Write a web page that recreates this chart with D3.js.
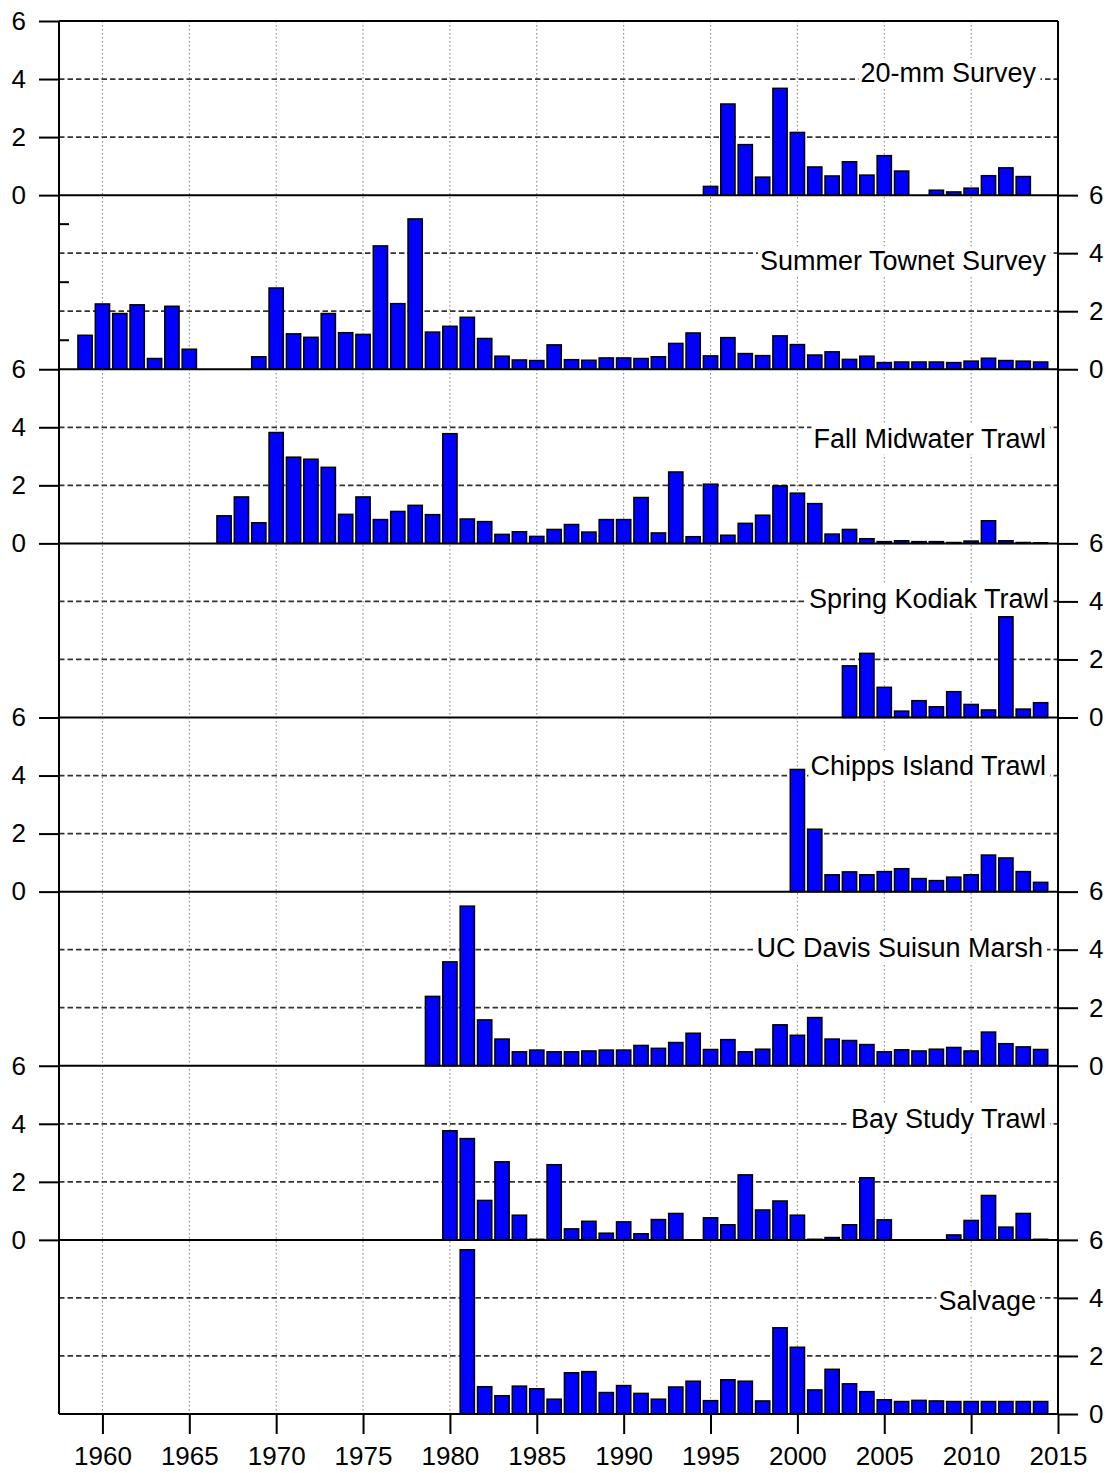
<!DOCTYPE html>
<html>
<head>
<meta charset="utf-8">
<script src="https://cdn.jsdelivr.net/npm/d3@7/dist/d3.min.js"></script>
<style>
  body { margin: 0; background: #fff; }
  text { font-family: "Liberation Sans", Arial, sans-serif; fill: #000; }
</style>
</head>
<body>
<svg id="chart" width="1111" height="1473"></svg>
<script>
// ---- data (values by year, starting at *Start) ----
var surveyNames = ["20-mm Survey", "Summer Townet Survey", "Fall Midwater Trawl", "Spring Kodiak Trawl",
                   "Chipps Island Trawl", "UC Davis Suisun Marsh", "Bay Study Trawl", "Salvage"];

var mm20Start = 1995;
var mm20 = [0.30, 3.14, 1.74, 0.62, 3.68, 2.16, 0.97, 0.66, 1.15, 0.69, 1.36, 0.83, null, 0.17, 0.11, 0.24, 0.67, 0.94, 0.64];

var townetStart = 1959;
var townet = [1.17, 2.25, 1.92, 2.22, 0.37, 2.17, 0.69, null, null, null,
              0.43, 2.80, 1.22, 1.10, 1.92, 1.26, 1.20, 4.25, 2.26, 5.18, 1.28, 1.48, 1.79, 1.06, 0.45, 0.32, 0.30, 0.84,
              0.33, 0.31, 0.39, 0.39, 0.37, 0.43, 0.89, 1.25, 0.46, 1.09, 0.54, 0.47, 1.15, 0.85, 0.49, 0.60, 0.34, 0.45,
              0.23, 0.25, 0.25, 0.25, 0.23, 0.28, 0.38, 0.30, 0.28, 0.25];

var fmwtStart = 1967;
var fmwt = [0.95, 1.60, 0.71, 3.82, 2.97, 2.90, 2.62, 1.00, 1.60, 0.82, 1.10, 1.31, 0.99, 3.78, 0.84, 0.75, 0.31, 0.40, 0.24, 0.48,
            0.65, 0.39, 0.82, 0.82, 1.58, 0.36, 2.46, 0.23, 2.04, 0.28, 0.69, 0.97, 1.98, 1.73, 1.37, 0.32, 0.48, 0.16,
            0.06, 0.09, 0.06, 0.06, 0.03, 0.08, 0.78, 0.09, 0.03, 0.02];

var sktStart = 2003;
var skt = [1.78, 2.21, 1.04, 0.22, 0.58, 0.37, 0.89, 0.45, 0.26, 3.47, 0.29, 0.51];

var chippsStart = 2000;
var chipps = [4.21, 2.15, 0.58, 0.68, 0.58, 0.69, 0.79, 0.45, 0.38, 0.50, 0.58, 1.26, 1.16, 0.69, 0.32];

var ucdStart = 1979;
var ucd = [2.39, 3.58, 5.50, 1.58, 0.92, 0.48, 0.54, 0.48,
           0.48, 0.51, 0.54, 0.54, 0.70, 0.60, 0.80, 1.12, 0.56, 0.90, 0.48, 0.57, 1.41, 1.05, 1.66, 0.92, 0.87, 0.73,
           0.48, 0.55, 0.51, 0.57, 0.63, 0.51, 1.16, 0.76, 0.65, 0.56];

var bayStart = 1980;
var bay = [3.76, 3.49, 1.36, 2.69, 0.85, 0.02, 2.59,
           0.38, 0.64, 0.23, 0.62, 0.21, 0.70, 0.91, null, 0.76, 0.52, 2.24, 1.03, 1.34, 0.85, 0.02, 0.08, 0.52, 2.14,
           0.69, null, null, null, 0.17, 0.67, 1.53, 0.44, 0.91, 0.02];

var salvageStart = 1981;
var salvage = [5.66, 0.94, 0.63, 0.96, 0.87, 0.51,
               1.42, 1.46, 0.74, 0.98, 0.71, 0.51, 0.93, 1.13, 0.46, 1.18, 1.13, 0.45, 2.97, 2.30, 0.83, 1.54, 1.04, 0.77,
               0.49, 0.43, 0.47, 0.45, 0.43, 0.43, 0.43, 0.43, 0.43, 0.43];

var seriesStarts = [mm20Start, townetStart, fmwtStart, sktStart, chippsStart, ucdStart, bayStart, salvageStart];
var seriesValues = [mm20, townet, fmwt, skt, chipps, ucd, bay, salvage];

var yTicks = [0, 2, 4, 6];
var yGrid = [2, 4];
var xTicks = [1960, 1965, 1970, 1975, 1980, 1985, 1990, 1995, 2000, 2005, 2010, 2015];
var xGrid = [1960, 1965, 1970, 1975, 1980, 1985, 1990, 1995, 2000, 2005, 2010];

// label placement (baseline in axis units, right end in px from the right axis)
var labelBase = [3.90, 3.41, 3.28, 3.79, 4.03, 3.76, 3.86, 3.59];
var labelInset = [22, 12, 12, 9, 12, 15, 12, 22];

// ---- layout ----
var plotL = 59, plotR = 1058, plotT = 21, panelH = 174.125;
var nPanels = surveyNames.length;
var plotB = plotT + nPanels * panelH;
var svg = d3.select("#chart");

var x = d3.scaleLinear().domain([1957.5, 2015]).range([plotL, plotR]);
var barW = x(1960.41) - x(1959.59);

function yScale(i) {
  return d3.scaleLinear().domain([0, 6]).range([plotT + (i + 1) * panelH, plotT + i * panelH]);
}

// vertical dotted grid
svg.append("g").selectAll("line")
   .data(xGrid).enter().append("line")
   .attr("x1", function(d) { return x(d); })
   .attr("x2", function(d) { return x(d); })
   .attr("y1", plotT).attr("y2", plotB)
   .attr("stroke", "#7a7a7a").attr("stroke-width", 1)
   .attr("stroke-dasharray", "1.5,2.5");

for (var i = 0; i < nPanels; i++) {
  var y = yScale(i);
  var g = svg.append("g").attr("class", "panel");

  // dashed horizontal grid
  g.selectAll(".hgrid")
   .data(yGrid).enter().append("line")
   .attr("class", "hgrid")
   .attr("x1", plotL).attr("x2", plotR)
   .attr("y1", function(d) { return y(d); })
   .attr("y2", function(d) { return y(d); })
   .attr("stroke", "#333").attr("stroke-width", 1.8)
   .attr("stroke-dasharray", "5.5,3");

  // bars
  var start = seriesStarts[i];
  var rows = seriesValues[i].map(function(v, j) { return { year: start + j, v: v }; })
                            .filter(function(d) { return d.v !== null; });
  g.selectAll(".bar")
   .data(rows).enter().append("rect")
   .attr("class", "bar")
   .attr("x", function(d) { return x(d.year) - barW / 2; })
   .attr("y", function(d) { return y(d.v); })
   .attr("width", barW)
   .attr("height", function(d) { return y(0) - y(d.v); })
   .attr("fill", "#0000ff")
   .attr("stroke", "#000").attr("stroke-width", 1.5);

  // label with white box
  var lab = g.append("g");
  var txt = lab.append("text")
               .attr("x", plotR - labelInset[i])
               .attr("y", y(labelBase[i]))
               .attr("text-anchor", "end")
               .style("font-size", "27px")
               .text(surveyNames[i]);
  var bb = txt.node().getBBox();
  lab.insert("rect", "text")
     .attr("x", bb.x - 2).attr("y", bb.y)
     .attr("width", bb.width + 6).attr("height", bb.height)
     .attr("fill", "#fff");

  // y axis, alternating sides
  var ax;
  if (i % 2 === 0) {
    ax = svg.append("g").attr("transform", "translate(" + plotL + ",0)")
            .call(d3.axisLeft(y).tickValues(yTicks).tickSize(20).tickPadding(13).tickFormat(d3.format("d")));
  } else {
    ax = svg.append("g").attr("transform", "translate(" + plotR + ",0)")
            .call(d3.axisRight(y).tickValues(yTicks).tickSize(20).tickPadding(11).tickFormat(d3.format("d")));
  }
  ax.select(".domain").remove();
  ax.selectAll("line").attr("stroke", "#000").attr("stroke-width", 2);
  ax.selectAll("text").style("font-size", "26px").attr("font-family", null);

  // panel boundary line
  svg.append("line")
     .attr("x1", plotL).attr("x2", plotR)
     .attr("y1", y(0)).attr("y2", y(0))
     .attr("stroke", "#000").attr("stroke-width", 2);
}

// minor inward ticks on the Summer Townet panel
var yT = yScale(1);
svg.append("g").selectAll("line")
   .data([1, 3, 5]).enter().append("line")
   .attr("x1", plotL).attr("x2", plotL + 10)
   .attr("y1", function(d) { return yT(d); })
   .attr("y2", function(d) { return yT(d); })
   .attr("stroke", "#000").attr("stroke-width", 2);

// frame
svg.append("line").attr("x1", plotL).attr("x2", plotR).attr("y1", plotT).attr("y2", plotT)
   .attr("stroke", "#000").attr("stroke-width", 2);
svg.append("line").attr("x1", plotL).attr("x2", plotL).attr("y1", plotT).attr("y2", plotB)
   .attr("stroke", "#000").attr("stroke-width", 2);
svg.append("line").attr("x1", plotR).attr("x2", plotR).attr("y1", plotT).attr("y2", plotB)
   .attr("stroke", "#000").attr("stroke-width", 2);

// x axis
var xa = svg.append("g").attr("transform", "translate(0," + plotB + ")")
            .call(d3.axisBottom(x).tickValues(xTicks).tickSize(20).tickPadding(13).tickFormat(d3.format("d")));
xa.select(".domain").remove();
xa.selectAll("line").attr("stroke", "#000").attr("stroke-width", 2);
xa.selectAll("text").style("font-size", "26px").attr("font-family", null);
</script>
</body>
</html>
